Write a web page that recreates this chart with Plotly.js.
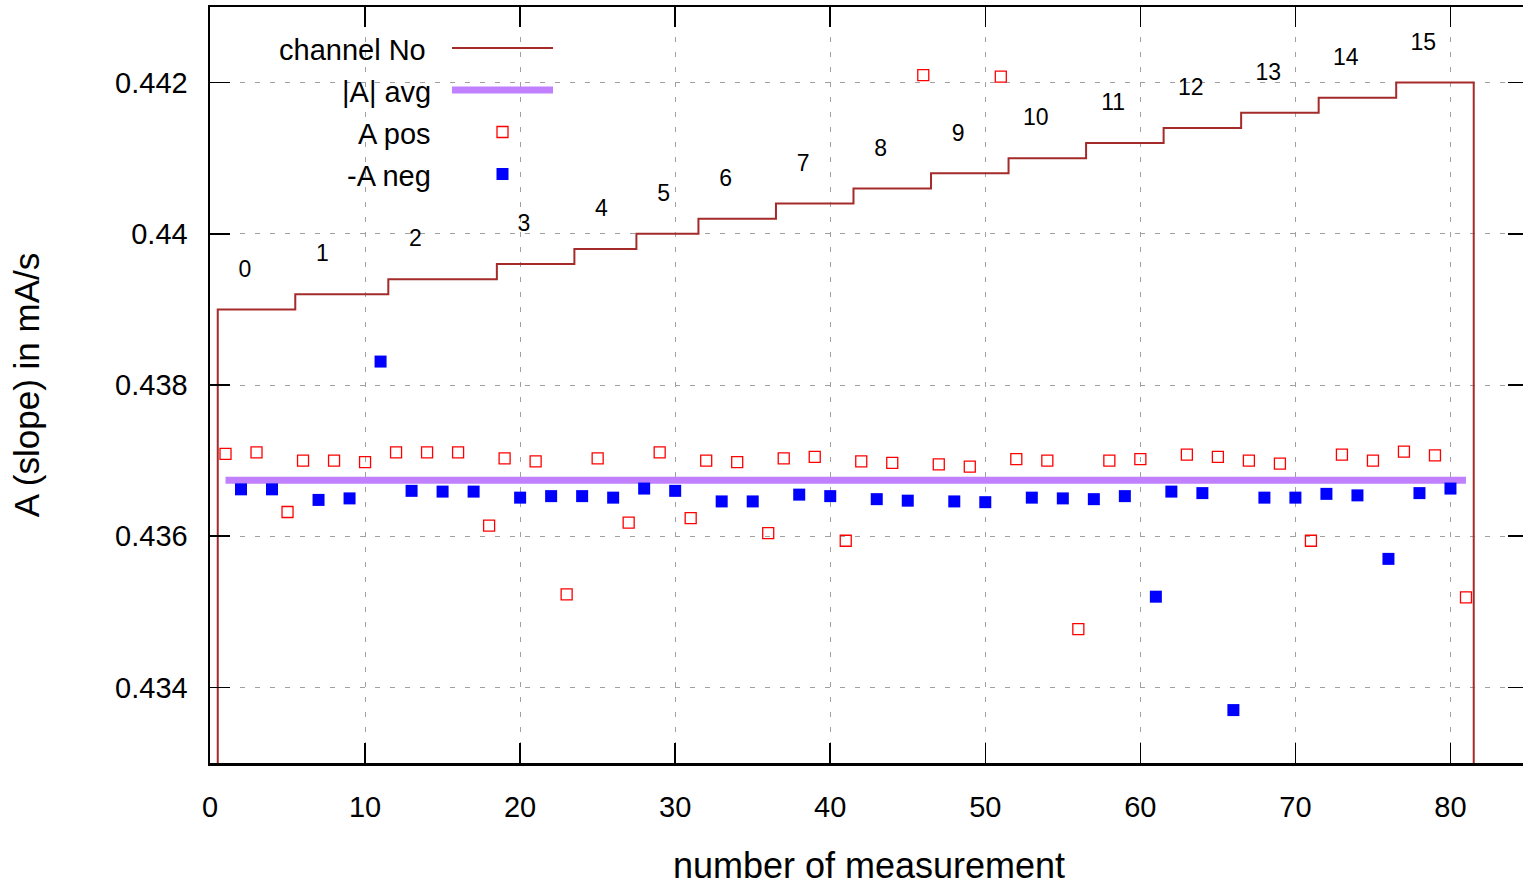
<!DOCTYPE html>
<html>
<head>
<meta charset="utf-8">
<script src="https://cdn.plot.ly/plotly-3.0.1.min.js"></script>
<style>
html, body { margin: 0; padding: 0; overflow: hidden; background: #fff; }
#chart { width: 1528px; height: 886px; }
</style>
</head>
<body>
<div id="chart"></div>
<script>
// ---- data ----
const posX = [1,3,5,6,8,10,12,14,16,18,19,21,23,25,27,29,31,32,34,36,37,39,41,42,44,46,47,49,51,52,54,56,58,60,63,65,67,69,71,73,75,77,79,81];
const posY = [0.43709,0.43711,0.43632,0.43700,0.43700,0.43698,0.43711,0.43711,0.43711,0.43614,
              0.43703,0.43699,0.43523,0.43703,0.43618,0.43711,0.43624,0.43700,0.43698,0.43604,
              0.43703,0.43705,0.43594,0.43699,0.43697,0.44210,0.43695,0.43692,0.44208,0.43702,
              0.43700,0.43477,0.43700,0.43702,0.43708,0.43705,0.43700,0.43696,0.43594,0.43708,
              0.43700,0.43712,0.43707,0.43519];
const negX = [2,4,7,9,11,13,15,17,20,22,24,26,28,30,33,35,38,40,43,45,48,50,53,55,57,59,61,62,64,66,68,70,72,74,76,78,80];
const negY = [0.43662,0.43662,0.43648,0.43650,0.43831,0.43660,0.43659,0.43659,0.43651,0.43653,
              0.43653,0.43651,0.43663,0.43660,0.43646,0.43646,0.43655,0.43653,0.43649,0.43647,
              0.43646,0.43645,0.43651,0.43650,0.43649,0.43653,0.43520,0.43659,0.43657,0.43370,
              0.43651,0.43651,0.43656,0.43654,0.43570,0.43657,0.43663];
const avgX = [1, 81];
const avgY = [0.43674, 0.43674];
const stepX = [0.5, 0.5, 5.5, 11.5, 18.5, 23.5, 27.5, 31.5, 36.5, 41.5, 46.5, 51.5, 56.5, 61.5, 66.5, 71.5, 76.5, 81.5, 81.5];
const stepY = [0.430, 0.4390, 0.4392, 0.4394, 0.4396, 0.4398, 0.4400, 0.4402, 0.4404, 0.4406, 0.4408, 0.4410, 0.4412, 0.4414, 0.4416, 0.4418, 0.4420, 0.4420, 0.430];
const channelLabels = ['0','1','2','3','4','5','6','7','8','9','10','11','12','13','14','15'];
const labelX = [2.25, 7.25, 13.25, 20.25, 25.25, 29.25, 33.25, 38.25, 43.25, 48.25, 53.25, 58.25, 63.25, 68.25, 73.25, 78.25];
const labelY = [0.43951, 0.43971, 0.43991, 0.44011, 0.44031, 0.44051, 0.44071, 0.44091, 0.44111, 0.44131, 0.44151, 0.44171, 0.44191, 0.44211, 0.44231, 0.44251];
const xTickVals = [0, 10, 20, 30, 40, 50, 60, 70, 80];
const yTickVals = [0.434, 0.436, 0.438, 0.440, 0.442];
const yTickText = ['0.434', '0.436', '0.438', '0.44', '0.442'];
const legendNames = ['channel No', '|A| avg', 'A pos', '-A neg'];

// ---- styling ----
const FONT = '"Liberation Sans", Arial, sans-serif';
const cStep = '#a52a2a', cAvg = '#c080ff', cPos = '#ff0000', cNeg = '#0000ff';

const traces = [
  { x: stepX, y: stepY, type: 'scatter', mode: 'lines', name: legendNames[0],
    line: { shape: 'hv', color: cStep, width: 2 }, hoverinfo: 'x+y' },
  { x: labelX, y: labelY, text: channelLabels, type: 'scatter', mode: 'text', name: 'channel labels',
    textposition: 'middle center', textfont: { family: FONT, size: 23, color: '#000' }, hoverinfo: 'text' },
  { x: avgX, y: avgY, type: 'scatter', mode: 'lines', name: legendNames[1],
    line: { color: cAvg, width: 7 } },
  { x: posX, y: posY, type: 'scatter', mode: 'markers', name: legendNames[2],
    marker: { symbol: 'square-open', size: 11, color: cPos, line: { color: cPos, width: 1.3 } } },
  { x: negX, y: negY, type: 'scatter', mode: 'markers', name: legendNames[3],
    marker: { symbol: 'square', size: 12, color: cNeg, line: { width: 0 } } }
];

// plot area in pixels: left 210, top 7, width 1318, height 756
const PL = 210, PT = 7, PW = 1318, PH = 756;
const px = v => (v - PL) / PW;
const py = v => (PT + PH - v) / PH;

const legendTextY = [50, 92, 134, 176];
const legendTextRight = [428, 433, 433, 433];
const annotations = legendNames.map((t, i) => ({
  xref: 'paper', yref: 'paper', x: px(legendTextRight[i]), y: py(legendTextY[i]),
  xanchor: 'right', yanchor: 'middle', text: t, showarrow: false,
  font: { family: FONT, size: 29, color: '#000' }
}));

const shapes = [
  { type: 'rect', xref: 'paper', yref: 'paper', layer: 'between',
    x0: px(212), x1: px(570), y0: py(9), y1: py(196), fillcolor: '#fff', line: { width: 0 } },
  { type: 'line', xref: 'paper', yref: 'paper', x0: px(452), x1: px(553), y0: py(48), y1: py(48),
    line: { color: cStep, width: 2 } },
  { type: 'line', xref: 'paper', yref: 'paper', x0: px(452), x1: px(553), y0: py(90), y1: py(90),
    line: { color: cAvg, width: 7 } },
  { type: 'rect', xref: 'paper', yref: 'paper', x0: px(497), x1: px(508), y0: py(137.5), y1: py(126.5),
    fillcolor: 'rgba(0,0,0,0)', line: { color: cPos, width: 1.3 } },
  { type: 'rect', xref: 'paper', yref: 'paper', x0: px(496.5), x1: px(508.5), y0: py(180), y1: py(168),
    fillcolor: cNeg, line: { width: 0 } }
];

const axisCommon = {
  showline: true, linecolor: '#000', linewidth: 2.5, mirror: 'ticks',
  ticks: 'inside', ticklen: 20, tickwidth: 1.5, tickcolor: '#000',
  showgrid: true, gridcolor: '#a0a0a0', gridwidth: 1, griddash: '5px,10px',
  zeroline: false, tickfont: { family: FONT, size: 29, color: '#000' }, automargin: false
};

const layout = {
  width: 1528, height: 886,
  margin: { l: PL, r: 0, t: PT, b: 886 - PT - PH, pad: 0 },
  paper_bgcolor: '#fff', plot_bgcolor: '#fff',
  showlegend: false,
  font: { family: FONT, color: '#000' },
  xaxis: Object.assign({}, axisCommon, {
    range: [0, 85], tickmode: 'array', tickvals: xTickVals, ticklabelstandoff: 17,
    title: { text: 'number of measurement', font: { family: FONT, size: 36, color: '#000' }, standoff: 41 }
  }),
  yaxis: Object.assign({}, axisCommon, {
    range: [0.433, 0.443], tickmode: 'array', tickvals: yTickVals, ticktext: yTickText, ticklabelstandoff: 14,
    title: { text: 'A (slope) in mA/s', font: { family: FONT, size: 35, color: '#000' }, standoff: 65 }
  }),
  annotations: annotations,
  shapes: shapes
};

Plotly.newPlot('chart', traces, layout, { displayModeBar: false, staticPlot: true });
</script>
</body>
</html>
